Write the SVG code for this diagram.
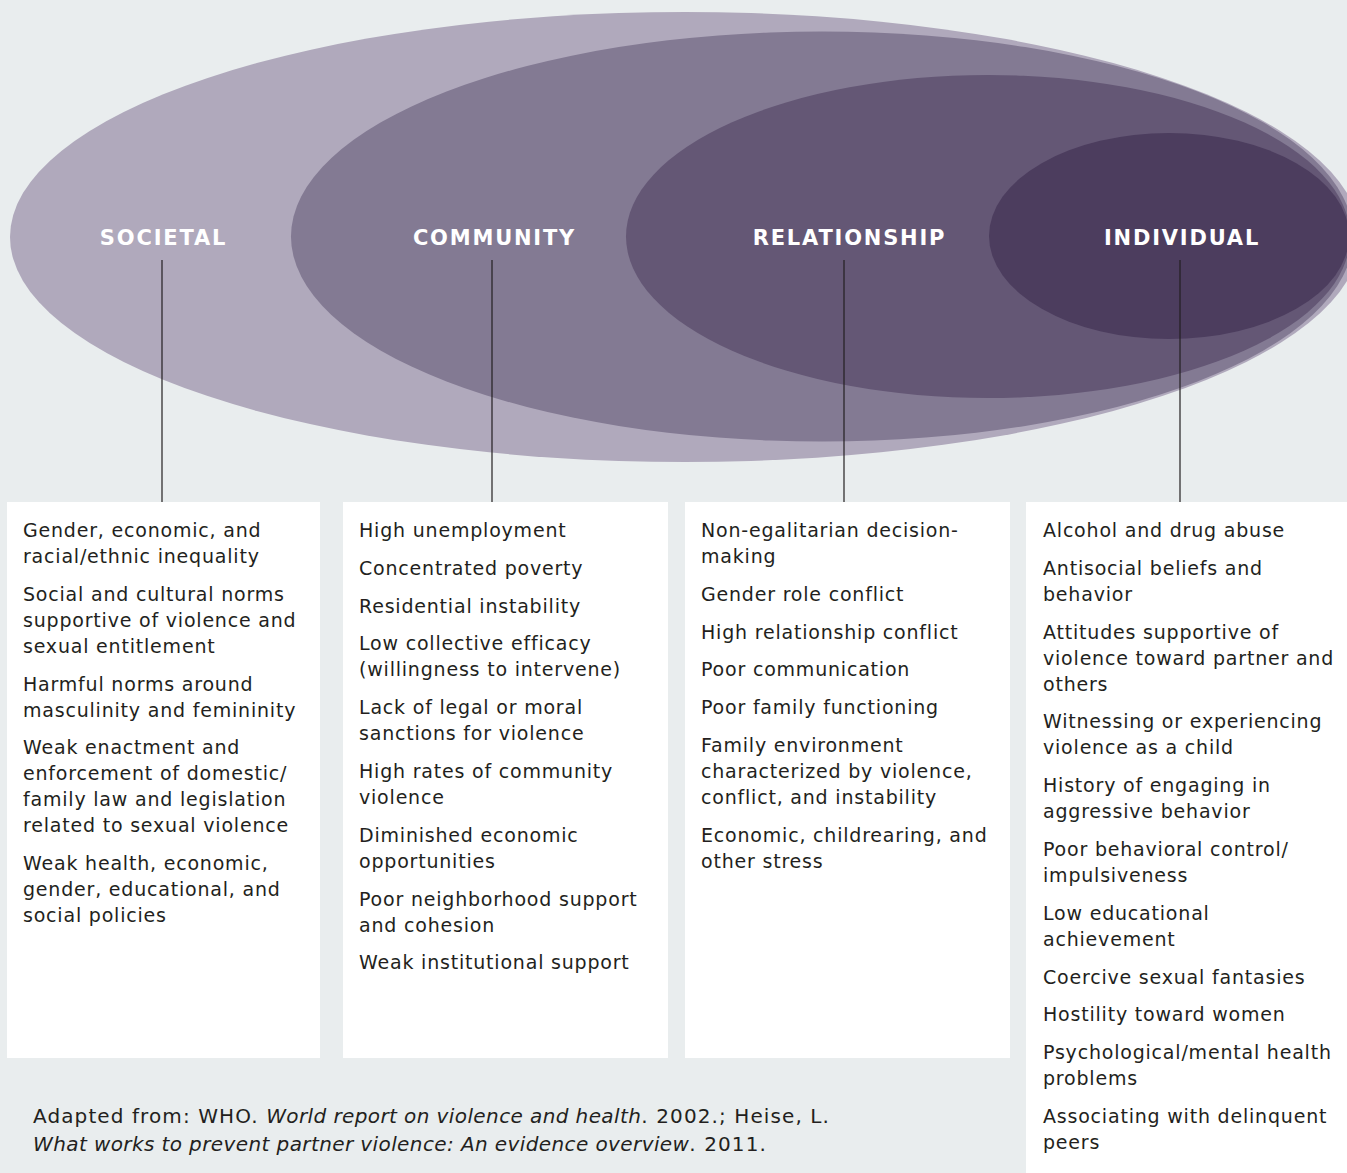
<svg xmlns="http://www.w3.org/2000/svg" width="1347" height="1173" viewBox="0 0 1347 1173">
<style>
.lbl{font-family:"DejaVu Sans",sans-serif;font-weight:bold;font-size:21px;fill:#ffffff;letter-spacing:1.8px;text-anchor:middle}
.t{font-family:"DejaVu Sans",sans-serif;font-size:19px;fill:#231f20;letter-spacing:0.8px}
.box{fill:#ffffff}
.conn{stroke:#231f20;stroke-width:1.2;fill:none}
.fn{font-family:"DejaVu Sans",sans-serif;font-size:20px;fill:#231f20;letter-spacing:1.1px}
.it{font-style:italic;letter-spacing:0.4px}
</style>
<rect x="0" y="0" width="1347" height="1173" fill="#e9edee"/>
<g id="societal">
<ellipse cx="685" cy="237" rx="675" ry="225" fill="#b0a9bc"/>
</g>
<g id="community">
<ellipse cx="822" cy="236.5" rx="531" ry="205" fill="#837a93"/>
</g>
<g id="relationship">
<ellipse cx="988" cy="236.5" rx="362" ry="161.5" fill="#645775"/>
</g>
<g id="individual">
<ellipse cx="1169" cy="236" rx="180" ry="103" fill="#4c3d5e"/>
</g>
<g id="labels">
<text class="lbl" x="163.5" y="245">SOCIETAL</text>
<text class="lbl" x="494.5" y="245">COMMUNITY</text>
<text class="lbl" x="849.5" y="245">RELATIONSHIP</text>
<text class="lbl" x="1182" y="245">INDIVIDUAL</text>
</g>
<g id="connectors">
<line class="conn" x1="162" y1="260" x2="162" y2="502"/>
<line class="conn" x1="492" y1="260" x2="492" y2="502"/>
<line class="conn" x1="844" y1="260" x2="844" y2="502"/>
<line class="conn" x1="1180" y1="260" x2="1180" y2="502"/>
</g>
<g id="box-societal">
<rect class="box" x="7" y="502" width="313" height="556"/>
<text class="t" x="23" y="537">Gender, economic, and</text>
<text class="t" x="23" y="563">racial/ethnic inequality</text>
<text class="t" x="23" y="600.8">Social and cultural norms</text>
<text class="t" x="23" y="626.8">supportive of violence and</text>
<text class="t" x="23" y="652.8">sexual entitlement</text>
<text class="t" x="23" y="690.6">Harmful norms around</text>
<text class="t" x="23" y="716.6">masculinity and femininity</text>
<text class="t" x="23" y="754.4">Weak enactment and</text>
<text class="t" x="23" y="780.4">enforcement of domestic/</text>
<text class="t" x="23" y="806.4">family law and legislation</text>
<text class="t" x="23" y="832.4">related to sexual violence</text>
<text class="t" x="23" y="870.2">Weak health, economic,</text>
<text class="t" x="23" y="896.2">gender, educational, and</text>
<text class="t" x="23" y="922.2">social policies</text>
</g>
<g id="box-community">
<rect class="box" x="343" y="502" width="325" height="556"/>
<text class="t" x="359" y="537">High unemployment</text>
<text class="t" x="359" y="574.8">Concentrated poverty</text>
<text class="t" x="359" y="612.6">Residential instability</text>
<text class="t" x="359" y="650.4">Low collective efficacy</text>
<text class="t" x="359" y="676.4">(willingness to intervene)</text>
<text class="t" x="359" y="714.2">Lack of legal or moral</text>
<text class="t" x="359" y="740.2">sanctions for violence</text>
<text class="t" x="359" y="778">High rates of community</text>
<text class="t" x="359" y="804">violence</text>
<text class="t" x="359" y="841.8">Diminished economic</text>
<text class="t" x="359" y="867.8">opportunities</text>
<text class="t" x="359" y="905.6">Poor neighborhood support</text>
<text class="t" x="359" y="931.6">and cohesion</text>
<text class="t" x="359" y="969.4">Weak institutional support</text>
</g>
<g id="box-relationship">
<rect class="box" x="685" y="502" width="325" height="556"/>
<text class="t" x="701" y="537">Non-egalitarian decision-</text>
<text class="t" x="701" y="563">making</text>
<text class="t" x="701" y="600.8">Gender role conflict</text>
<text class="t" x="701" y="638.6">High relationship conflict</text>
<text class="t" x="701" y="676.4">Poor communication</text>
<text class="t" x="701" y="714.2">Poor family functioning</text>
<text class="t" x="701" y="752">Family environment</text>
<text class="t" x="701" y="778">characterized by violence,</text>
<text class="t" x="701" y="804">conflict, and instability</text>
<text class="t" x="701" y="841.8">Economic, childrearing, and</text>
<text class="t" x="701" y="867.8">other stress</text>
</g>
<g id="box-individual">
<rect class="box" x="1026" y="502" width="321" height="671"/>
<text class="t" x="1043" y="537">Alcohol and drug abuse</text>
<text class="t" x="1043" y="574.8">Antisocial beliefs and</text>
<text class="t" x="1043" y="600.8">behavior</text>
<text class="t" x="1043" y="638.6">Attitudes supportive of</text>
<text class="t" x="1043" y="664.6">violence toward partner and</text>
<text class="t" x="1043" y="690.6">others</text>
<text class="t" x="1043" y="728.4">Witnessing or experiencing</text>
<text class="t" x="1043" y="754.4">violence as a child</text>
<text class="t" x="1043" y="792.2">History of engaging in</text>
<text class="t" x="1043" y="818.2">aggressive behavior</text>
<text class="t" x="1043" y="856">Poor behavioral control/</text>
<text class="t" x="1043" y="882">impulsiveness</text>
<text class="t" x="1043" y="919.8">Low educational</text>
<text class="t" x="1043" y="945.8">achievement</text>
<text class="t" x="1043" y="983.6">Coercive sexual fantasies</text>
<text class="t" x="1043" y="1021.4">Hostility toward women</text>
<text class="t" x="1043" y="1059.2">Psychological/mental health</text>
<text class="t" x="1043" y="1085.2">problems</text>
<text class="t" x="1043" y="1123">Associating with delinquent</text>
<text class="t" x="1043" y="1149">peers</text>
</g>
<g id="footnote">
<text class="fn" x="33" y="1123">Adapted from: WHO. <tspan class="it">World report on violence and health</tspan>. 2002.; Heise, L.</text>
<text class="fn" x="33" y="1151"><tspan class="it">What works to prevent partner violence: An evidence overview</tspan>. 2011.</text>
</g>
</svg>
